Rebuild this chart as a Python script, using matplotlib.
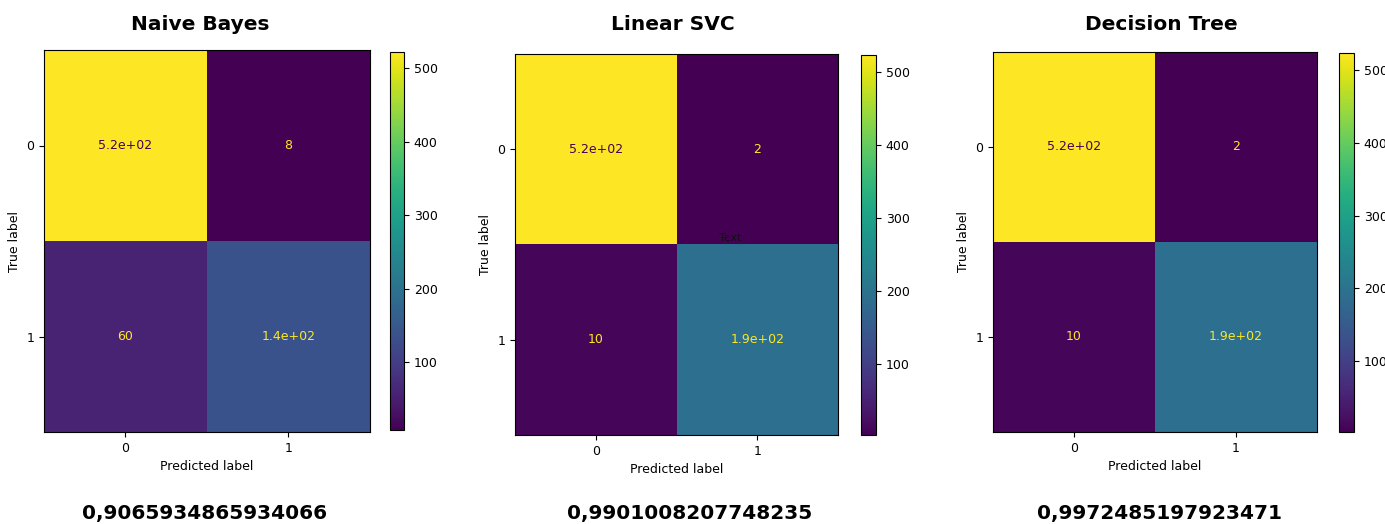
import matplotlib.pyplot as plt
import numpy as np

# --- Data ---
model_names = ['Naive Bayes', 'Linear SVC', 'Decision Tree']
scores = ['0,9065934865934066', '0,9901008207748235', '0,9972485197923471']
matrices = [
    np.array([[522, 8], [60, 138]]),
    np.array([[524, 2], [10, 192]]),
    np.array([[524, 2], [10, 192]]),
]
class_labels = ['0', '1']

# --- Layout (pixels -> figure fractions) ---
W, H = 1385, 524
axes_px = [(44, 50, 370, 432), (515, 54, 838, 435), (993, 52, 1317, 432)]
cbar_px = [(390, 52, 404, 430), (861, 55, 876, 435), (1339, 53, 1354, 432)]
title_x = [200, 673, 1161]
score_x = [205, 690, 1160]


def frac(box):
    x0, y0, x1, y1 = box
    return [x0 / W, 1 - y1 / H, (x1 - x0) / W, (y1 - y0) / H]


cmap = plt.get_cmap('viridis')
fig = plt.figure(figsize=(W / 100, H / 100), dpi=100)

for i, cm in enumerate(matrices):
    ax = fig.add_axes(frac(axes_px[i]))
    cax = fig.add_axes(frac(cbar_px[i]))
    im = ax.imshow(cm, cmap=cmap, aspect='auto', interpolation='nearest')
    thresh = (cm.max() + cm.min()) / 2.0
    for r in range(2):
        for c in range(2):
            color = cmap(0.0) if cm[r, c] > thresh else cmap(1.0)
            ax.text(c, r, format(cm[r, c], '.2g'), ha='center', va='center',
                    color=color, fontsize=9)
    ax.set_xticks([0, 1])
    ax.set_yticks([0, 1])
    ax.set_xticklabels(class_labels, fontsize=9)
    ax.set_yticklabels(class_labels, fontsize=9)
    ax.set_xlabel('Predicted label', fontsize=9)
    ax.set_ylabel('True label', fontsize=9)
    cb = fig.colorbar(im, cax=cax)
    cb.set_ticks([100, 200, 300, 400, 500])
    cb.ax.tick_params(labelsize=9)
    fig.text(title_x[i] / W, 1 - 24 / H, model_names[i], ha='center',
             va='center', fontsize=14.5, fontweight='bold')
    fig.text(score_x[i] / W, 1 - 513 / H, scores[i], ha='center',
             va='center', fontsize=14.5, fontweight='bold')
    if i == 1:
        ax.text(0.666, 0.517, 'Text', ha='center', va='center', fontsize=8,
                color='#111111', transform=ax.transAxes, zorder=10)

fig.savefig('out.png', dpi=100)
